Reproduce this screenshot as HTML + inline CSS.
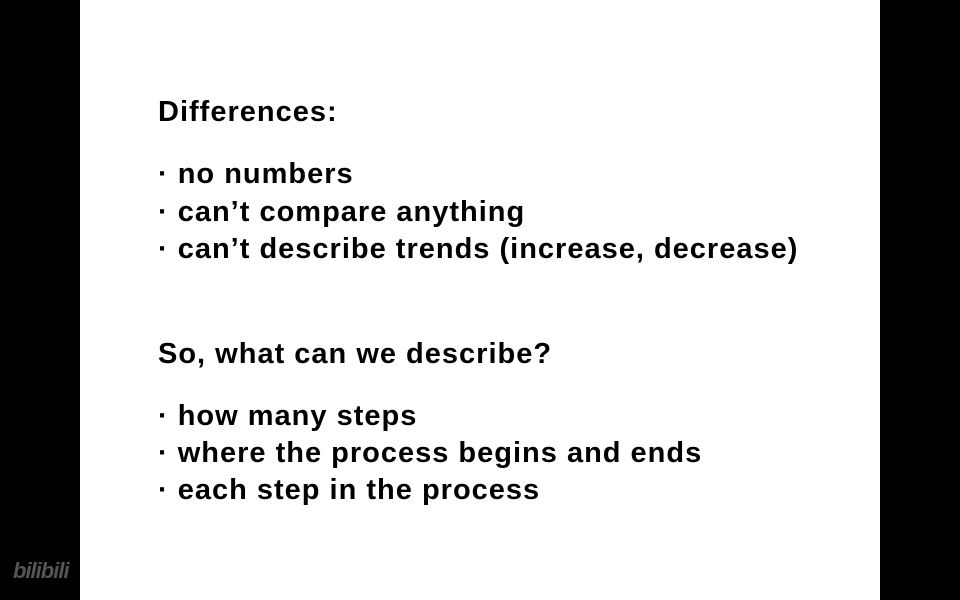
<!DOCTYPE html>
<html><head><style>
body{margin:0;width:960px;height:600px;background:#000;position:relative;overflow:hidden;font-family:"Liberation Sans",Arial,sans-serif;}
.w{position:absolute;left:80px;top:0;width:800px;height:600px;background:#fff;}
.t{position:absolute;font-weight:bold;font-size:29px;line-height:29px;letter-spacing:1px;color:#000;white-space:nowrap;}
.b{left:158px}
.logo{position:absolute;left:13px;top:558px;color:#555;font-weight:bold;font-size:22px;font-style:italic;letter-spacing:-1px;}
</style></head><body>
<div class="w"></div>
<div class="t" style="left:158px;top:98px">Differences:</div>
<div class="t b" style="top:160px">· no numbers</div>
<div class="t b" style="top:198px">· can’t compare anything</div>
<div class="t b" style="top:235px">· can’t describe trends (increase, decrease)</div>
<div class="t" style="left:158px;top:340px">So, what can we describe?</div>
<div class="t b" style="top:402px">· how many steps</div>
<div class="t b" style="top:439px">· where the process begins and ends</div>
<div class="t b" style="top:476px">· each step in the process</div>
<div class="logo">bilibili</div>
</body></html>
